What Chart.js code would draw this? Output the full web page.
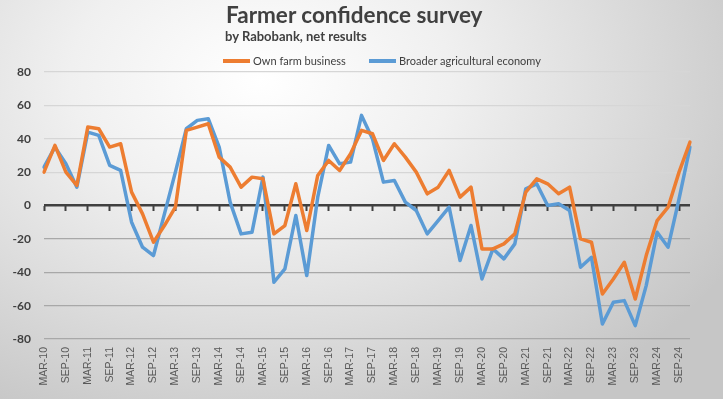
<!DOCTYPE html>
<html><head><meta charset="utf-8">
<script src="https://cdn.jsdelivr.net/npm/chart.js@4"></script>
<style>
html,body{margin:0;padding:0;}
#wrap{position:relative;width:723px;height:399px;overflow:hidden;
 background: radial-gradient(ellipse 75% 95% at 36% 20%, #ffffff 0%, #f0f0f0 35%, #dddddd 65%, #c6c6c6 100%);
 font-family: Lato, "Open Sans", sans-serif; color:#404040;}
#c{position:absolute;left:0;top:0;}
.t{position:absolute;white-space:nowrap;font-weight:bold;}
#title{left:226px;top:4px;font-size:22.5px;line-height:22px;}
#sub{left:225px;top:30px;font-size:13px;line-height:13px;}
.lg{position:absolute;top:55px;font-size:11px;line-height:12px;white-space:nowrap;display:flex;align-items:center;}
.lg i{display:inline-block;width:27px;height:4px;margin-right:3px;}
</style></head>
<body>
<div id="wrap">
<canvas id="c" width="723" height="399"></canvas>
<div class="t" id="title">Farmer confidence survey</div>
<div class="t" id="sub">by Rabobank, net results</div>
<div class="lg" id="lg1" style="left:223px"><i id="sw1"></i><span id="lt1"></span></div>
<div class="lg" id="lg2" style="left:369px"><i id="sw2"></i><span id="lt2"></span></div>
</div>
<script>
const categories = [
 "MAR-10","JUN-10","SEP-10","DEC-10","MAR-11","JUN-11","SEP-11","DEC-11",
 "MAR-12","JUN-12","SEP-12","DEC-12","MAR-13","JUN-13","SEP-13","DEC-13",
 "MAR-14","JUN-14","SEP-14","DEC-14","MAR-15","JUN-15","SEP-15","DEC-15",
 "MAR-16","JUN-16","SEP-16","DEC-16","MAR-17","JUN-17","SEP-17","DEC-17",
 "MAR-18","JUN-18","SEP-18","DEC-18","MAR-19","JUN-19","SEP-19","DEC-19",
 "MAR-20","JUN-20","SEP-20","DEC-20","MAR-21","JUN-21","SEP-21","DEC-21",
 "MAR-22","JUN-22","SEP-22","DEC-22","MAR-23","JUN-23","SEP-23","DEC-23",
 "MAR-24","JUN-24","SEP-24","DEC-24"];
const ownFarm = [20,36,20,12,47,46,35,37,8,-5,-22,-12,-1,45,47,49,29,23,11,17,
 16,-17,-12,13,-15,18,27,21,31,45,43,27,37,29,20,7,11,21,5,11,
 -26,-26,-23,-17,8,16,13,7,11,-20,-22,-53,-44,-34,-56,-30,-9,-1,20,38];
const broader = [23,35,25,11,44,42,24,21,-10,-25,-30,-5,20,46,51,52,35,2,-17,-16,
 17,-46,-38,-6,-42,5,36,25,26,54,40,14,15,2,-3,-17,-9,-1,-33,-12,
 -44,-26,-32,-23,10,13,0,1,-3,-37,-31,-71,-58,-57,-72,-48,-16,-25,4,35];
const seriesNames = ["Own farm business","Broader agricultural economy"];
const seriesColors = ["#ED7D31","#5B9BD5"];
const yTicks = {min:-80, max:80, step:20};

document.getElementById('lt1').textContent = seriesNames[0];
document.getElementById('lt2').textContent = seriesNames[1];
document.getElementById('sw1').style.background = seriesColors[0];
document.getElementById('sw2').style.background = seriesColors[1];

new Chart(document.getElementById('c'), {
  type: 'line',
  data: {
    labels: categories,
    datasets: [
      {label: seriesNames[0], data: ownFarm, borderColor: seriesColors[0], backgroundColor: seriesColors[0],
       borderWidth: 3.5, pointRadius: 0, tension: 0, borderJoinStyle:'round', borderCapStyle:'round'},
      {label: seriesNames[1], data: broader, borderColor: seriesColors[1], backgroundColor: seriesColors[1],
       borderWidth: 3.5, pointRadius: 0, tension: 0, borderJoinStyle:'round', borderCapStyle:'round'}
    ]
  },
  options: {
    responsive: false, animation: false, devicePixelRatio: 1,
    layout: {padding: {top: 72, right: 33, left: 0, bottom: 0}},
    plugins: {legend: {display: false}, title: {display: false}, tooltip: {enabled: false}},
    scales: {
      x: {
        type: 'category', position: 'bottom', offset: false,
        grid: {display: false, drawTicks: false}, border: {display: false},
        ticks: {autoSkip: false, maxRotation: 90, minRotation: 90, padding: 8,
          color: '#595959', font: {family: 'Liberation Sans, Arial', size: 10.5},
          callback: function(v, i){ return i % 2 === 0 ? this.getLabelForValue(v) : ''; }},
        afterFit: s => { s.height = 60; }
      },
      xz: {
        type: 'category', position: {y: 0}, offset: false,
        ticks: {display: false},
        border: {display: false},
        grid: {drawOnChartArea: false, drawTicks: true, tickLength: 5, tickWidth: 2,
          tickColor: c => (c.index % 2 === 0 ? '#404040' : 'rgba(0,0,0,0)')}
      },
      y: {
        min: yTicks.min, max: yTicks.max,
        border: {display: false},
        grid: {drawTicks: false,
          color: c => c.tick.value === 0 ? '#404040' : (c.tick.value > 0 ? '#d6d6d6' : '#a8a8a8'),
          lineWidth: c => c.tick.value === 0 ? 2.5 : 1.2},
        ticks: {stepSize: yTicks.step, padding: 13, color: '#404040',
          font: {family: 'Lato, Liberation Sans', size: 12, weight: 'bold'}},
        afterFit: s => { s.width = 44; }
      }
    }
  }
});
</script>
</body></html>
